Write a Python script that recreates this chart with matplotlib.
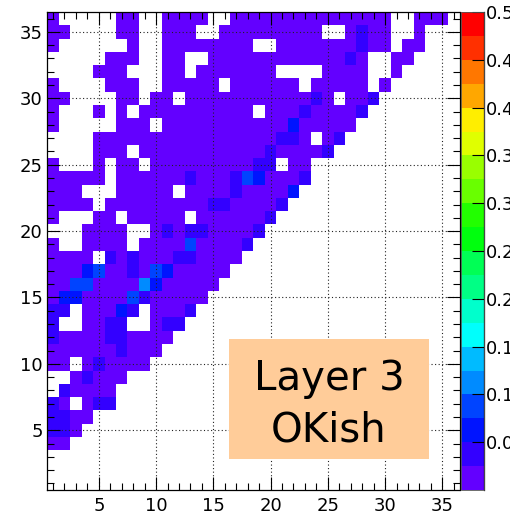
#!/usr/bin/env python
# -*- coding: utf-8 -*-
import colorsys

import numpy as np
import matplotlib
matplotlib.use('Agg')
import matplotlib.pyplot as plt
from matplotlib.colors import ListedColormap, BoundaryNorm
from matplotlib.patches import Rectangle
from matplotlib.ticker import MultipleLocator, FixedLocator, FixedFormatter
from matplotlib.transforms import Bbox, TransformedBbox


# Occupancy map, one string per row from y = 36 (top) down to y = 1.
# '.' = empty bin, digit = colour band of the bin content (0 -> 0-0.025, ...).
rows = [
    "0.....00..0000..00000000000000..000.",
    "00....00..000..000000000..0100..0...",
    "0......0..00000000..0000000100.00...",
    ".....000..00..00000000000010..00....",
    "....000...00.0000000....0000..0.....",
    "0....000..00000.000000.00000.0......",
    "00....00.00.0000000000010.001.......",
    "0...0.0.0000000000.000100001........",
    "0.....000.00000000000200000.........",
    "....0000000000000000110.01..........",
    "....000.00000000000100001...........",
    "0...0.00.00000000011.00.............",
    "00000.00000010001320001.............",
    "000...00000.0000100002..............",
    "0000.0000000001100001...............",
    "0...00.00000.0000001................",
    "...0000..0101100001.................",
    "0..0000.0000300001..................",
    "0000.101000110000...................",
    "0002300103200000....................",
    "003300004200000.....................",
    "02200003100000......................",
    "11.00021.0001.......................",
    "1..0011..011........................",
    "10000110000.........................",
    "0000001000..........................",
    "00.010000...........................",
    "..01000.............................",
    ".10000..............................",
    "10.011..............................",
    "1100................................",
    "110.................................",
    "00..................................",
    "....................................",
    "....................................",
    "....................................",
]

# bin content for each colour band
band_content = [0.012, 0.037, 0.062, 0.087, 0.112]

n_bins = 36
z_min, z_max = 0.0, 0.5
n_contours = 20

cbar_ticks = [0.05, 0.1, 0.15, 0.2, 0.25, 0.3, 0.35, 0.4, 0.45, 0.5]
cbar_labels = ['0.05', '0.1', '0.15', '0.2', '0.25', '0.3', '0.35', '0.4', '0.45', '0.5']

label_lines = ['Layer 3', 'OKish']


def pretty_palette(n=50):
    # violet -> red, fixed lightness and saturation, hue scanned
    cols = []
    for i in range(n):
        hue = 280. - (i + 1) * (280. / n)
        cols.append(colorsys.hls_to_rgb(hue / 360., 0.5, 1.0))
    return cols


if __name__ == '__main__':

    assert all(len(r) == n_bins for r in rows)

    z = np.zeros((n_bins, n_bins))
    for j, r in enumerate(rows[::-1]):
        for i, c in enumerate(r):
            if c != '.':
                z[j, i] = band_content[int(c)]
    z = np.ma.masked_equal(z, 0.)

    pal = pretty_palette(50)
    colors = [pal[int((k + 0.99) * len(pal) / n_contours)] for k in range(n_contours)]
    cmap = ListedColormap(colors)
    norm = BoundaryNorm(np.linspace(z_min, z_max, n_contours + 1), n_contours)

    W, H = 522., 514.
    fig = plt.figure(figsize=(W / 100., H / 100.), dpi=100)
    plt.rcParams['font.family'] = ['DejaVu Sans']

    ax = fig.add_axes([47.3 / W, 1 - 490. / H, 412.2 / W, 478. / H])
    cax = fig.add_axes([460.5 / W, 1 - 490. / H, 23.5 / W, 478. / H])

    edges = np.arange(n_bins + 1) + 0.5
    mesh = ax.pcolormesh(edges, edges, z, cmap=cmap, norm=norm,
                         edgecolors='none', antialiased=False, zorder=1)

    ax.set_xlim(0.5, 36.5)
    ax.set_ylim(0.5, 36.5)
    ax.set_axisbelow(False)
    for a in (ax.xaxis, ax.yaxis):
        a.set_major_locator(MultipleLocator(5))
        a.set_minor_locator(MultipleLocator(1))
    ax.tick_params(which='both', direction='in', top=True, right=True,
                   width=0.8, color='black', labelsize=13)
    ax.tick_params(which='major', length=9.4)
    ax.tick_params(which='minor', length=4.8)
    ax.tick_params(axis='x', pad=5)
    ax.tick_params(axis='y', pad=3.3)
    ax.grid(True, which='major', color='#222222', linewidth=0.8,
            linestyle=(0, (1, 2.2)))
    for s in ax.spines.values():
        s.set_linewidth(0.9)

    cb = fig.colorbar(mesh, cax=cax)
    cb.outline.set_linewidth(0.6)
    cb.outline.set_edgecolor('#555555')
    cax.spines['right'].set_visible(True)
    cax.spines['right'].set_linewidth(0.9)
    cax.yaxis.set_major_locator(FixedLocator(cbar_ticks))
    cax.yaxis.set_major_formatter(FixedFormatter(cbar_labels))
    cax.yaxis.set_minor_locator(FixedLocator([]))
    cax.tick_params(which='major', direction='in', length=8.6, width=0.8,
                    color='black', labelsize=13, pad=1.5, right=True, left=False)

    # palette labels run past the pad edge and get cut there
    clip = TransformedBbox(Bbox.from_extents(0, 0, 510. / W, 1), fig.transFigure)
    for t in cax.get_yticklabels():
        t.set_clip_box(clip)
        t.set_clip_on(True)

    # label box
    box = Rectangle((229. / W, 1 - 459. / H), 200. / W, 120. / H,
                    transform=fig.transFigure, facecolor='#ffcc99',
                    edgecolor='none', zorder=3)
    ax.add_patch(box)
    for txt, base in zip(label_lines, [390., 442.]):
        ax.text(328.9 / W, 1 - base / H, txt, transform=fig.transFigure,
                ha='center', va='baseline', fontsize=29, color='black', zorder=4)

    fig.savefig('out.png', dpi=100)
